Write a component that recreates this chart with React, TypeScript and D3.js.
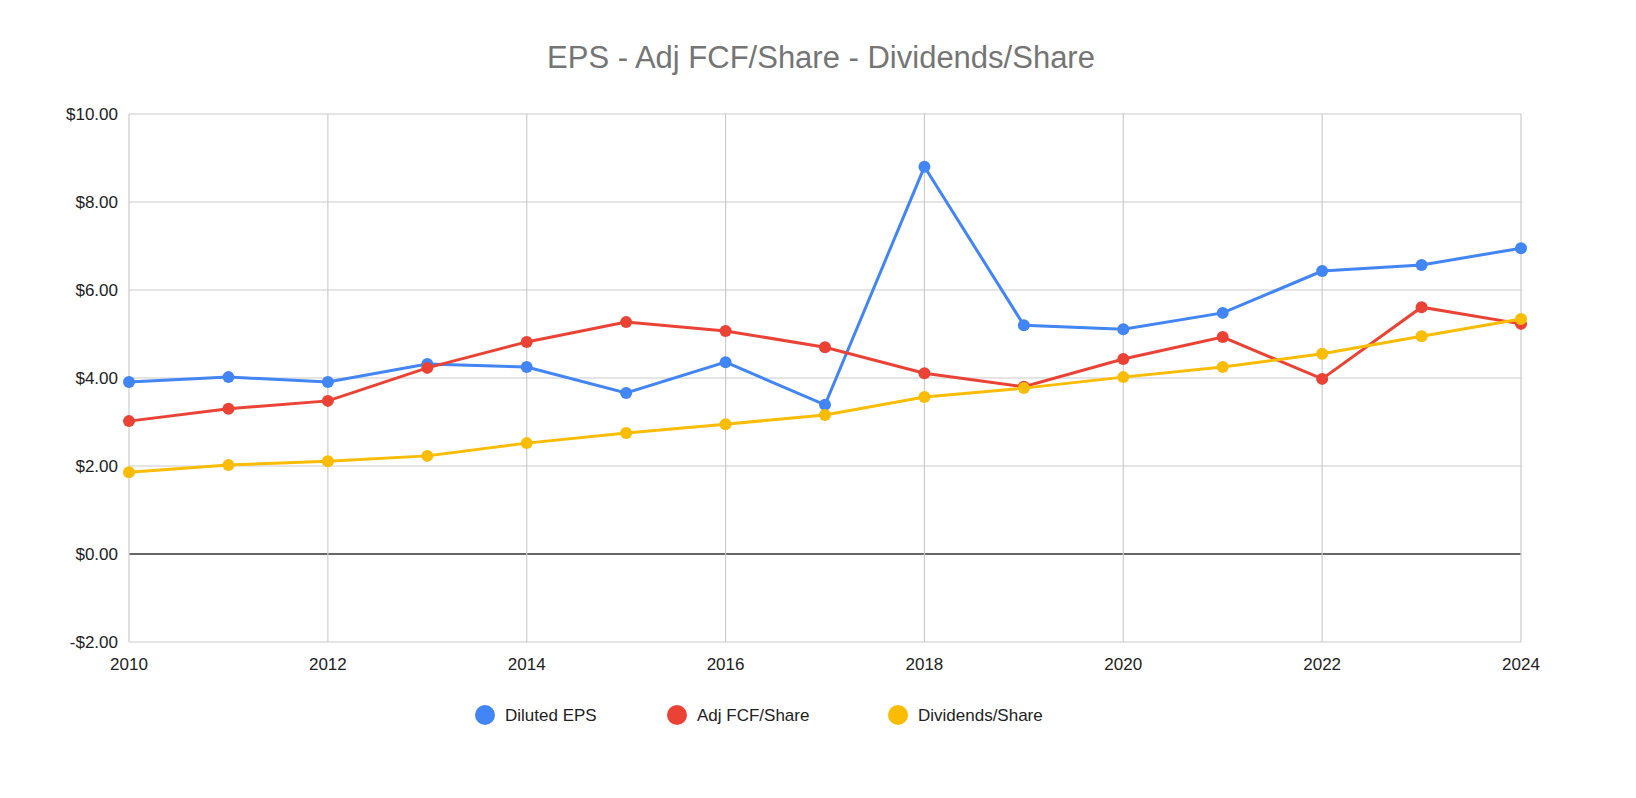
import React from 'react';
import * as d3 from 'd3';

const years = d3.range(2010, 2025);
const dilutedEps = [3.91, 4.02, 3.91, 4.32, 4.25, 3.66, 4.36, 3.39, 8.8, 5.2, 5.11, 5.48, 6.43, 6.57, 6.95];
const adjFcf = [3.02, 3.3, 3.48, 4.23, 4.82, 5.27, 5.07, 4.7, 4.11, 3.8, 4.43, 4.93, 3.98, 5.61, 5.23];
const dividends = [1.86, 2.02, 2.11, 2.23, 2.52, 2.75, 2.95, 3.16, 3.57, 3.77, 4.02, 4.25, 4.55, 4.95, 5.34];
const yTicks = [-2, 0, 2, 4, 6, 8, 10];
const xTicks = [2010, 2012, 2014, 2016, 2018, 2020, 2022, 2024];

const series = [
  {name: 'Diluted EPS', values: dilutedEps, color: '#4285f4'},
  {name: 'Adj FCF/Share', values: adjFcf, color: '#ea4335'},
  {name: 'Dividends/Share', values: dividends, color: '#fbbc04'},
];

const W = 1636, H = 798;
const font = 'Arial, "Liberation Sans", sans-serif';

export default function App() {
  const x = d3.scaleLinear().domain([2010, 2024]).range([129, 1521]);
  const y = d3.scaleLinear().domain([-2, 10]).range([642, 114]);
  const line = d3.line<number>().x((_, i) => x(years[i])).y(d => y(d));
  const legendX = [485, 677, 898];

  return (
    <svg width={W} height={H} style={{position: 'absolute', left: 0, top: 0}} fontFamily={font}>
      <rect width={W} height={H} fill="#fff" />
      <text x={W / 2 + 3} y={68} textAnchor="middle" fontSize={31} fill="#757575">
        EPS - Adj FCF/Share - Dividends/Share
      </text>
      {yTicks.map(t => (
        <g key={t}>
          <line x1={129} x2={1521} y1={y(t)} y2={y(t)} stroke={t === 0 ? '#333' : '#ccc'} strokeWidth={t === 0 ? 1.3 : 1.2} />
          <text x={118} y={y(t) + 6} textAnchor="end" fontSize={17} fill="#222">
            {(t < 0 ? '-$' : '$') + Math.abs(t).toFixed(2)}
          </text>
        </g>
      ))}
      {xTicks.map(t => (
        <g key={t}>
          <line x1={x(t)} x2={x(t)} y1={114} y2={642} stroke="#ccc" strokeWidth={1.2} />
          <text x={x(t)} y={670} textAnchor="middle" fontSize={17} fill="#222">{t}</text>
        </g>
      ))}
      {series.map(s => (
        <g key={s.name}>
          <path d={line(s.values)!} fill="none" stroke={s.color} strokeWidth={3} />
          {s.values.map((v, i) => (
            <circle key={i} cx={x(years[i])} cy={y(v)} r={6} fill={s.color} />
          ))}
        </g>
      ))}
      {series.map((s, i) => (
        <g key={s.name} transform={`translate(${legendX[i]},715)`}>
          <circle r={10} fill={s.color} />
          <text x={20} y={6} fontSize={17} fill="#222">{s.name}</text>
        </g>
      ))}
    </svg>
  );
}
